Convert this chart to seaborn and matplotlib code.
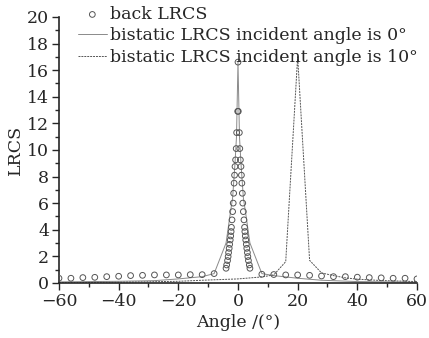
import numpy as np
import pandas as pd
import matplotlib
matplotlib.use("Agg")
import matplotlib.pyplot as plt
import seaborn as sns
from matplotlib.ticker import MultipleLocator

# back LRCS: sparse points away from the peak, dense points near 0
back_left_angle = [-60, -56, -52, -48, -44, -40, -36, -32, -28, -24, -20, -16, -12, -8]
back_left_value = [0.35, 0.35, 0.40, 0.42, 0.47, 0.50, 0.55, 0.57, 0.60, 0.60, 0.60, 0.62, 0.62, 0.70]
back_peak_angle = [0.0, 0.1, 0.45, 0.6, 0.8, 1.0, 1.15, 1.3, 1.45, 1.6, 1.8, 2.0, 2.2, 2.3,
                   2.45, 2.6, 2.8, 2.95, 3.15, 3.3, 3.5, 3.8, 4.0]
back_peak_value = [16.6, 12.9, 11.3, 10.1, 9.25, 8.75, 8.1, 7.5, 6.74, 6.0, 5.36, 4.74, 4.18, 3.86,
                   3.53, 3.23, 2.9, 2.6, 2.28, 1.98, 1.68, 1.35, 1.10]
back_right_angle = [8, 12, 16, 20, 24, 28, 32, 36, 40, 44, 48, 52, 56, 60]
back_right_value = [0.65, 0.63, 0.60, 0.60, 0.57, 0.52, 0.47, 0.47, 0.43, 0.40, 0.38, 0.35, 0.35, 0.30]

# bistatic LRCS, incident angle 0 deg
bi0_angle = [-60, -40, -28, -20, -12, -8, -4, -2.6, -1.8, -1.0, -0.5, 0,
             0.5, 1.0, 1.8, 2.6, 4, 8, 12, 20, 28, 40, 60]
bi0_value = [0.08, 0.12, 0.17, 0.30, 0.47, 0.70, 3.0, 5.2, 6.4, 9.0, 11.0, 16.6,
             11.0, 9.0, 6.4, 5.2, 3.0, 0.70, 0.55, 0.35, 0.20, 0.10, 0.05]

# bistatic LRCS, incident angle 10 deg
bi10_angle = [-60, -40, -20, -12, 0, 8, 12, 16, 20, 24, 28, 32, 36, 40, 48, 60]
bi10_value = [0.02, 0.05, 0.12, 0.20, 0.30, 0.45, 0.60, 1.6, 17.0, 1.7, 0.75, 0.55, 0.38, 0.28, 0.18, 0.10]

peak_neg = [-a for a in back_peak_angle[::-1]]
back = pd.DataFrame({
    "angle": back_left_angle + peak_neg + back_peak_angle[1:] + back_right_angle,
    "value": back_left_value + back_peak_value[::-1] + back_peak_value[1:] + back_right_value,
})
bi0 = pd.DataFrame({"angle": bi0_angle, "value": bi0_value})
bi10 = pd.DataFrame({"angle": bi10_angle, "value": bi10_value})

sns.set_style("ticks")
plt.rcParams["font.family"] = ["DejaVu Serif"]
plt.rcParams["mathtext.fontset"] = "dejavuserif"

fig = plt.figure(figsize=(4.29, 3.38), dpi=100)
ax = fig.add_axes([0.1375, 0.163, 0.8345, 0.787])

sns.scatterplot(data=back, x="angle", y="value", ax=ax, marker="o", s=17,
                facecolor="none", edgecolor="#555555", linewidth=0.7,
                label="back LRCS", zorder=3)
sns.lineplot(data=bi0, x="angle", y="value", ax=ax, color="#8a8a8a", linewidth=0.7,
             label="bistatic LRCS incident angle is 0°", sort=False)
sns.lineplot(data=bi10, x="angle", y="value", ax=ax, color="#555555", linewidth=0.7,
             linestyle=(0, (2, 1)), label="bistatic LRCS incident angle is 10°", sort=False)

ax.set_xlim(-60, 60)
ax.set_ylim(0, 20)
ax.xaxis.set_major_locator(MultipleLocator(20))
ax.xaxis.set_minor_locator(MultipleLocator(10))
ax.yaxis.set_major_locator(MultipleLocator(2))
ax.yaxis.set_minor_locator(MultipleLocator(1))
ax.tick_params(which="major", direction="out", length=5, width=1, labelsize=12.5, pad=2)
ax.tick_params(which="minor", direction="out", length=3, width=1)
sns.despine(ax=ax)
for s in ["left", "bottom"]:
    ax.spines[s].set_linewidth(1.2)

ax.set_xlabel("Angle /(°)", fontsize=12.5, labelpad=3)
ax.set_ylabel("LRCS", fontsize=12.5, labelpad=2)

leg = ax.legend(loc="upper left", bbox_to_anchor=(78 / 429, 1 - 6 / 338),
                bbox_transform=fig.transFigure, frameon=False,
                fontsize=12.5, handlelength=1.65, handletextpad=0.2,
                labelspacing=0.25, borderaxespad=0, borderpad=0)

fig.savefig("out.png", dpi=100)
